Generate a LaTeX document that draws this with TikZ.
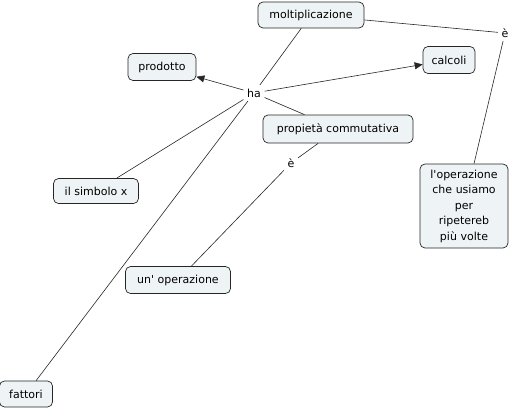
\documentclass[tikz,border=0pt]{standalone}
\usepackage{fontspec}
\setmainfont{DejaVu Sans}
\usetikzlibrary{arrows.meta}
\begin{document}
\begin{tikzpicture}[x=1pt,y=-1pt,
  concept/.style={draw=black!85, line width=0.7pt, fill=cfill, rounded corners=5pt, font=\fontsize{11}{15.5}\selectfont, inner xsep=3pt, minimum height=26pt, align=center},
  linkword/.style={font=\fontsize{11}{12}\selectfont, inner sep=3.5pt},
  conn/.style={draw=black!85, line width=0.6pt},
  arr/.style={conn, -{Triangle[length=8pt,width=7pt]}}]
\definecolor{cfill}{HTML}{EEF3F5}
\useasboundingbox (0,0) rectangle (512,408);
\node[concept, minimum width=106pt] (molt) at (311,15) {moltiplicazione};
\node[concept, minimum width=68pt, minimum height=27pt] (prod) at (162,67) {prodotto};
\node[concept, minimum width=52pt, minimum height=27pt] (calc) at (449,60) {calcoli};
\node[linkword] (ha) at (254,93) {ha};
\node[concept, minimum width=150pt, minimum height=28pt] (prop) at (338,129) {propietà commutativa};
\node[linkword] (e1) at (505,33) {è};
\node[concept, minimum width=88pt, minimum height=84pt, text width=82pt, inner ysep=4pt] (oper) at (464,206) {l\textquotesingle operazione\\che usiamo\\per\\ripetereb\\più volte};
\node[concept, minimum width=85pt, minimum height=25pt] (simb) at (96,191) {il simbolo x};
\node[linkword] (e2) at (291,163) {è};
\node[concept, minimum width=105pt, minimum height=27pt] (unop) at (178,280) {un\textquotesingle\ operazione};
\node[concept, minimum width=53pt, minimum height=26pt] (fatt) at (26,394) {fattori};
\draw[conn] (molt) -- (ha);
\draw[arr] (ha) -- (prod);
\draw[arr] (ha) -- (calc);
\draw[conn] (ha) -- (prop);
\draw[conn] (ha) -- (simb);
\draw[conn] (ha) -- (fatt);
\draw[conn] (molt) -- (e1);
\draw[conn] (e1) -- (oper);
\draw[conn] (prop) -- (e2);
\draw[conn] (e2) -- (unop);
\end{tikzpicture}
\end{document}
